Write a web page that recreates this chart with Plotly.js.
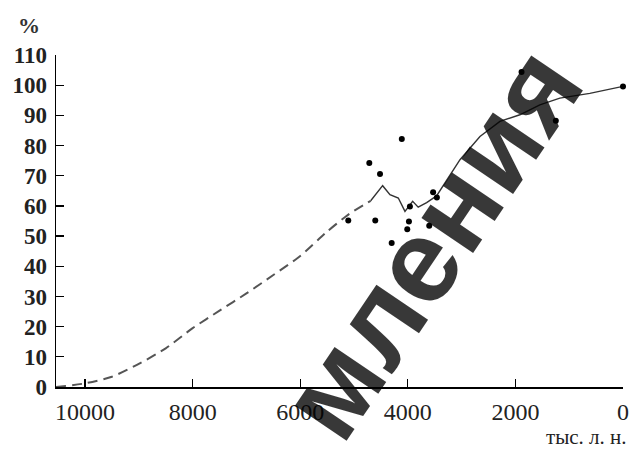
<!DOCTYPE html>
<html>
<head>
<meta charset="utf-8">
<script src="https://cdn.plot.ly/plotly-3.0.1.min.js"></script>
<style>
html,body{margin:0;padding:0;background:#fff;}
#chart{width:631px;height:453px;}
</style>
</head>
<body>
<div id="chart"></div>
<script>
// Dashed (reconstructed) trend
var dashedYears = [10540, 10000, 9500, 8975, 8500, 8000, 7500, 7000, 6500, 6000, 5500, 5100, 4690];
var dashedVals  = [0, 1.2, 3.4, 7.9, 12.8, 19.5, 25.3, 31, 37.1, 43.4, 51.5, 57.2, 61.7];
// Solid (observed) trend
var solidYears = [4690, 4468, 4332, 4177, 4053, 3910, 3807, 3650, 3466, 3157, 3030, 2659, 2288, 1917, 1546, 1174, 617, 0];
var solidVals  = [61.7, 66.7, 63.7, 62.6, 58.2, 61.5, 59.6, 61.1, 63.3, 72, 75.3, 83, 88, 90.2, 93.5, 95.7, 97.3, 99.6];
// Individual points
var dotYears = [5107, 4716, 4605, 4517, 4300, 4112, 4010, 3979, 3961, 3602, 3530, 3460, 1886, 1249, 0];
var dotVals  = [55.2, 74.2, 55.2, 70.6, 47.7, 82.2, 52.3, 54.8, 59.8, 53.4, 64.5, 62.8, 104.4, 88.2, 99.6];
// Tick labels
var xTicks = [10000, 8000, 6000, 4000, 2000, 0];
var yTicks = [0, 10, 20, 30, 40, 50, 60, 70, 80, 90, 100, 110];

var serif = "Liberation Serif";
var sans = "Liberation Sans";

var traces = [
  {x: dashedYears, y: dashedVals, mode: 'lines', type: 'scatter',
   line: {color: '#555', width: 2, dash: '10px,6px', shape: 'spline', smoothing: 0.6}, hoverinfo: 'skip', cliponaxis: false},
  {x: solidYears, y: solidVals, mode: 'lines', type: 'scatter',
   line: {color: '#333', width: 1.4}, hoverinfo: 'skip', cliponaxis: false},
  {x: dotYears, y: dotVals, mode: 'markers', type: 'scatter',
   marker: {color: '#000', size: 6}, hoverinfo: 'skip', cliponaxis: false}
];

var layout = {
  width: 631, height: 453,
  margin: {l: 56, r: 8, t: 55, b: 66},
  paper_bgcolor: '#fff', plot_bgcolor: '#fff',
  showlegend: false,
  font: {family: serif},
  xaxis: {
    range: [10540, 0], tickvals: xTicks, ticktext: xTicks.map(String),
    ticks: 'inside', ticklen: 8, tickwidth: 1.3, tickcolor: '#000',
    showline: true, linecolor: '#000', linewidth: 1.5, showgrid: false, zeroline: false,
    ticklabelstandoff: 3,
    tickfont: {family: serif, size: 24, color: '#222'}, fixedrange: true
  },
  yaxis: {
    range: [0, 110], tickvals: yTicks, ticktext: yTicks.map(String),
    ticks: 'inside', ticklen: 8, tickwidth: 1.3, tickcolor: '#000',
    showline: true, linecolor: '#000', linewidth: 1.5, showgrid: false, zeroline: false,
    ticklabelstandoff: 3,
    tickfont: {family: serif, size: 23, color: '#222', weight: 'bold'}, fixedrange: true
  },
  annotations: [
    {text: '%', xref: 'paper', yref: 'paper', x: -0.047, y: 1.09, showarrow: false,
     font: {family: serif, size: 22, color: '#333', weight: 'bold'}, xanchor: 'center', yanchor: 'middle'},
    {text: 'тыс. л. н.', xref: 'paper', yref: 'paper', x: 1.01, y: -0.152, showarrow: false,
     font: {family: serif, size: 21, color: '#222'}, xanchor: 'right', yanchor: 'middle'},
    {text: 'мления', xref: 'paper', yref: 'paper', x: 0.66, y: 0.435, showarrow: false,
     textangle: -56, font: {family: sans, size: 118, color: 'rgba(0,0,0,0.78)', weight: 'bold'},
     xanchor: 'center', yanchor: 'middle'}
  ]
};

Plotly.newPlot('chart', traces, layout, {staticPlot: true, displayModeBar: false});
</script>
</body>
</html>
